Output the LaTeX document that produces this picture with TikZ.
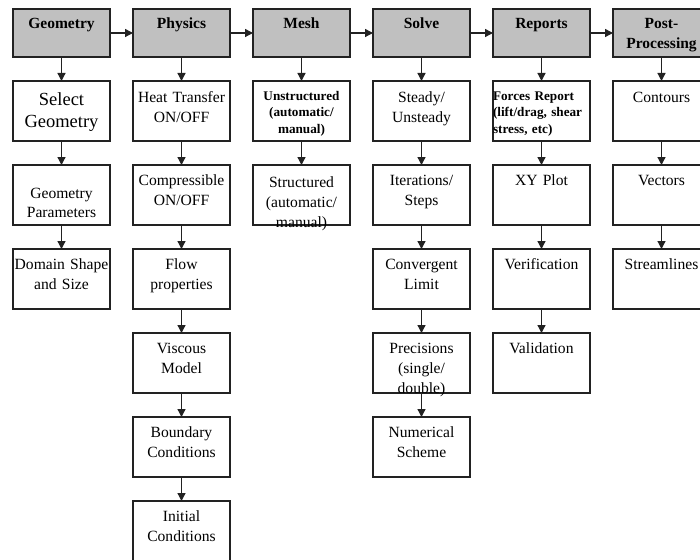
\documentclass[tikz,border=0pt]{standalone}
\usepackage{fontspec}
\setmainfont{Liberation Serif}
\usetikzlibrary{positioning,arrows.meta}

\definecolor{hdrgray}{HTML}{C0C0C0}
\definecolor{edge}{HTML}{222222}

\begin{document}
\begin{tikzpicture}[
    x=1pt, y=-1pt,
    node distance=24pt and 23pt,
    every node/.style={inner sep=0pt, outer sep=0pt, text width=97pt, align=center},
    hdr/.style={draw=edge, line width=1.3pt, fill=hdrgray,
      font=\fontsize{15.5}{20}\selectfont\bfseries, text height=20pt, text depth=28pt},
    stage/.style={draw=edge, line width=1.3pt,
      font=\fontsize{15.6}{20}\selectfont, text height=#1, text depth=60pt-#1},
    stage/.default=20pt,
    small/.style={font=\fontsize{13.2}{16.5}\selectfont\bfseries},
    flow/.style={draw=edge, line width=1.3pt, -{Triangle[length=8pt,width=8pt]}},
  ]
  \useasboundingbox (0,0) rectangle (700,559);

  % stages along the top
  \node[hdr] (geom) at (61.5,33) {Geometry};
  \node[hdr, right=of geom] (phys) {Physics};
  \node[hdr, right=of phys] (mesh) {Mesh};
  \node[hdr, right=of mesh] (solve) {Solve};
  \node[hdr, right=of solve] (rep) {Reports};
  \node[hdr, right=of rep] (post) {Post-\\Processing};

  % geometry
  \node[stage=24pt, below=of geom, font=\fontsize{18.5}{22}\selectfont] (selgeo) {Select\\Geometry};
  \node[stage=33pt, below=of selgeo, font=\fontsize{15.6}{19}\selectfont] (geopar) {Geometry\\Parameters};
  \node[stage, below=of geopar] (domain) {Domain Shape\\and Size};

  % physics
  \node[stage=21.5pt, below=of phys] (heat) {Heat Transfer\\ON/OFF};
  \node[stage, below=of heat] (comp) {Compressible\\ON/OFF};
  \node[stage, below=of comp] (fprop) {Flow\\properties};
  \node[stage, below=of fprop] (visc) {Viscous\\Model};
  \node[stage, below=of visc] (bc) {Boundary\\Conditions};
  \node[stage, below=of bc] (ic) {Initial\\Conditions};

  % mesh
  \node[stage=19pt, small, below=of mesh] (unstr) {Unstructured\\(automatic/\\manual)};
  \node[stage=22pt, below=of unstr] (str) {Structured\\(automatic/\\manual)};

  % solve
  \node[stage=21.5pt, below=of solve] (steady) {Steady/\\Unsteady};
  \node[stage, below=of steady] (iter) {Iterations/\\Steps};
  \node[stage, below=of iter] (conv) {Convergent\\Limit};
  \node[stage, below=of conv] (prec) {Precisions\\(single/\\double)};
  \node[stage, below=of prec] (scheme) {Numerical\\Scheme};

  % reports
  \node[stage=19pt, small, align=left, below=of rep] (forces) {Forces Report\\(lift/drag, shear\\stress, etc)};
  \node[stage, below=of forces] (xy) {XY Plot};
  \node[stage, below=of xy] (verif) {Verification};
  \node[stage, below=of verif] (valid) {Validation};

  % post-processing
  \node[stage=21.5pt, below=of post] (cont) {Contours};
  \node[stage, below=of cont] (vect) {Vectors};
  \node[stage, below=of vect] (stream) {Streamlines};

  \foreach \a/\b in {geom/phys, phys/mesh, mesh/solve, solve/rep, rep/post,
      geom/selgeo, selgeo/geopar, geopar/domain,
      phys/heat, heat/comp, comp/fprop, fprop/visc, visc/bc, bc/ic,
      mesh/unstr, unstr/str,
      solve/steady, steady/iter, iter/conv, conv/prec, prec/scheme,
      rep/forces, forces/xy, xy/verif, verif/valid,
      post/cont, cont/vect, vect/stream}
    \draw[flow] (\a) -- (\b);
\end{tikzpicture}
\end{document}
